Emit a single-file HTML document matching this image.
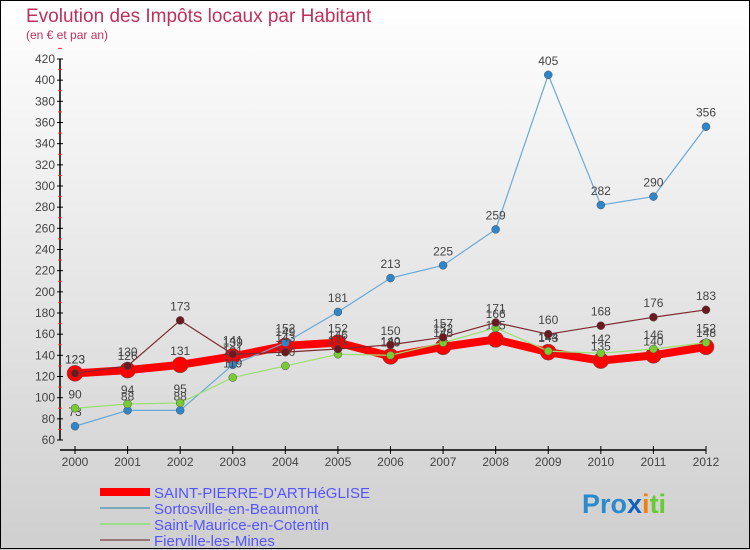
<!DOCTYPE html>
<html><head><meta charset="utf-8"><style>
body{margin:0}
#c{width:750px;height:550px;position:relative;overflow:hidden;background:linear-gradient(#ffffff,#cfcfcf);font-family:"Liberation Sans",sans-serif}
</style></head><body>
<div id="c">
<svg id="s" width="750" height="550" xmlns="http://www.w3.org/2000/svg" style="position:absolute;left:0;top:0">
<rect x="0.5" y="0.5" width="749" height="548" fill="none" stroke="#000"/>
<text x="26" y="22" font-size="19" fill="#c0305a">Evolution des Impôts locaux par Habitant</text>
<text x="26" y="39" font-size="12" fill="#c0305a">(en € et par an)</text>
<g id="axes"></g><g id="series"></g>
<g>
<rect x="100" y="488" width="50" height="8" fill="#ff0000"/>
<text x="154" y="498" font-size="15" fill="#5555ff">SAINT-PIERRE-D'ARTHéGLISE</text>
<rect x="100" y="507" width="50" height="2" fill="#7ab"/>
<text x="154" y="514" font-size="15" fill="#5555ff">Sortosville-en-Beaumont</text>
<rect x="100" y="523" width="50" height="2" fill="#9d8"/>
<text x="154" y="530" font-size="15" fill="#5555ff">Saint-Maurice-en-Cotentin</text>
<rect x="100" y="539" width="50" height="2" fill="#977"/>
<text x="154" y="546" font-size="15" fill="#5555ff">Fierville-les-Mines</text>
</g>
<text x="582" y="513" font-size="27" font-weight="bold"><tspan fill="#2a8ad0">Pro</tspan><tspan fill="#1060c0">x</tspan><tspan fill="#f08010">i</tspan><tspan fill="#6c3">ti</tspan></text>
</svg>
</div>
<script>
const years=["2000","2001","2002","2003","2004","2005","2006","2007","2008","2009","2010","2011","2012"];
const yTicks=[60,80,100,120,140,160,180,200,220,240,260,280,300,320,340,360,380,400,420];
const stPierre=[123,126,131,139,149,152,139,148,155,143,135,140,148];
const sortosville=[73,88,88,131,152,181,213,225,259,405,282,290,356];
const stMaurice=[90,94,95,119,130,141,140,152,166,144,142,146,152];
const fierville=[123,130,173,141,143,146,150,157,171,160,168,176,183];
const NS="http://www.w3.org/2000/svg";
const xS=i=>75+i*(706-75)/12;
const yS=v=>440-(v-60)*(381/360);
function mk(t,a,p){const e=document.createElementNS(NS,t);for(const k in a)e.setAttribute(k,a[k]);p.appendChild(e);return e;}
const ax=document.getElementById('axes');
const ya=mk('line',{x1:60,y1:yS(420),x2:60,y2:yS(60),stroke:'#000','stroke-width':1.5},ax);


yTicks.forEach(v=>{
  mk('line',{x1:57,x2:63,y1:yS(v),y2:yS(v),stroke:'#000'},ax);
  mk('line',{x1:58,x2:62,y1:yS(v+10),y2:yS(v+10),stroke:'#f33'},ax);
  const t=mk('text',{x:55,y:yS(v)+4,'font-size':12,fill:'#444','text-anchor':'end'},ax);
  t.textContent=v;
  
  
});
const xa=mk('line',{x1:60,y1:450,x2:706,y2:450,stroke:'#000','stroke-width':1.5},ax);


years.forEach((y,i)=>{
  mk('line',{x1:xS(i),x2:xS(i),y1:446,y2:454,stroke:'#000'},ax);
  const t=mk('text',{x:xS(i),y:466,'font-size':12,fill:'#444','text-anchor':'middle'},ax);
  t.textContent=y;
  
  
});
const sg=document.getElementById('series');
function draw(data,name,color,dot,w,r){
  const g=mk('g',{},sg);
  
  
  mk('polyline',{points:data.map((v,i)=>xS(i)+','+yS(v)).join(' '),fill:'none',stroke:color,'stroke-width':w,'stroke-linejoin':'round'},g);
  data.forEach((v,i)=>{
    const c=mk('circle',{cx:xS(i),cy:yS(v),r:r,fill:dot,stroke:'#555','stroke-width':0.5},g);
    
    
    const t=mk('text',{x:xS(i),y:yS(v)-10,'font-size':12,fill:'#444','text-anchor':'middle'},g);
    t.textContent=v;
    
    
  });
}
draw(stPierre,'saint-pierre-series','#ff0000','#ff0000',8,8);
draw(sortosville,'sortosville-series','#6aaad8','#2e86c8',1.2,4);
draw(stMaurice,'saint-maurice-series','#99e070','#77cc33',1.2,4);
draw(fierville,'fierville-series','#7a2a30','#6b1a20',1.2,4);
</script>
</body></html>
